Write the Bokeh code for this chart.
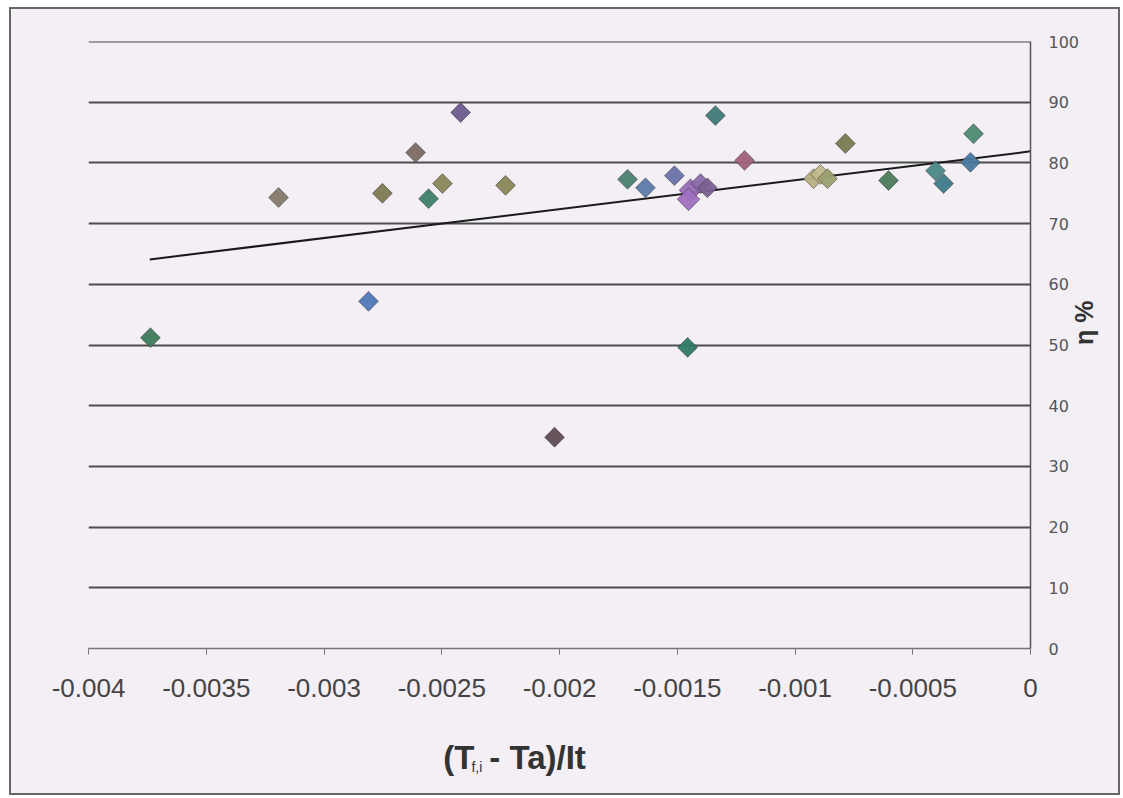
import math
from bokeh.plotting import figure
from bokeh.layouts import column
from bokeh.models import Range1d, FixedTicker, ColumnDataSource, Span
from bokeh.core.properties import value
from bokeh.embed import file_html
from bokeh.resources import INLINE

# ---- data ----
x_vals = [-0.003737, -0.003193, -0.002811, -0.002752, -0.002611, -0.002556, -0.002497,
          -0.002420, -0.002229, -0.002021, -0.001711, -0.001635, -0.001512, -0.001444,
          -0.001452, -0.001401, -0.001372, -0.001338, -0.001456, -0.001214, -0.000921,
          -0.000892, -0.000862, -0.000786, -0.000603, -0.000403, -0.000369, -0.000255,
          -0.000242]
eta_vals = [51.2, 74.3, 57.2, 75.0, 81.7, 74.1, 76.6,
            88.3, 76.3, 34.8, 77.3, 75.9, 77.9, 75.5,
            74.0, 76.6, 75.9, 87.8, 49.6, 80.4, 77.4,
            78.1, 77.4, 83.2, 77.1, 78.7, 76.6, 80.1,
            84.8]
point_colors = ["#3e7a5a", "#85786a", "#4f78b8", "#7d7950", "#7a6a62", "#3f7f6a", "#8a8458",
                "#6e5a8e", "#8a8456", "#5e4a52", "#4a8070", "#5a7aaa", "#6a70a8", "#9a6ab8",
                "#a070c0", "#8a68a8", "#7a6090", "#3e7a78", "#2e7a66", "#a0607a", "#b8b080",
                "#c0b888", "#9aa070", "#7a7a50", "#4a7a58", "#4a8888", "#3e7a88", "#4a78a0",
                "#4a8a70"]
trend_x = [-0.00374, 0.0]
trend_y = [64.1, 81.9]

x_ticks = [-0.004, -0.0035, -0.003, -0.0025, -0.002, -0.0015, -0.001, -0.0005, 0.0]
x_tick_labels = ["-0.004", "-0.0035", "-0.003", "-0.0025", "-0.002", "-0.0015", "-0.001", "-0.0005", "0"]
y_ticks = [0, 10, 20, 30, 40, 50, 60, 70, 80, 90, 100]
x_title_parts = ["(T", "f,i", "- Ta)/It"]
y_title = "η %"

BG = "#f3eff5"
W = 1107
H_MAIN = 714
H_TITLE = 70

p = figure(width=W, height=H_MAIN, output_backend="svg", toolbar_location=None,
           x_range=Range1d(-0.004, 0.0), y_range=Range1d(0, 100),
           y_axis_location="right",
           min_border_left=77, min_border_right=88, min_border_top=32, min_border_bottom=75,
           background_fill_color=BG, border_fill_color=BG)
p.outline_line_color = None

# grid
p.xgrid.visible = False
p.ygrid.ticker = FixedTicker(ticks=y_ticks)
p.ygrid.grid_line_color = "#4d4d4d"
p.ygrid.grid_line_width = 2
p.add_layout(Span(location=y_ticks[-1], dimension="width", line_color="#4d4d4d", line_width=2))

# x axis
xa = p.xaxis[0]
xa.ticker = FixedTicker(ticks=x_ticks)
xa.major_label_overrides = dict(zip(x_ticks, x_tick_labels))
xa.axis_line_color = "#777777"
xa.axis_line_width = 1.5
xa.major_tick_line_color = "#777777"
xa.major_tick_out = 6
xa.major_tick_in = 0
xa.minor_tick_line_color = None
xa.major_label_text_font = "Liberation Sans"
xa.major_label_text_font_size = "26px"
xa.major_label_text_color = "#444444"
xa.major_label_standoff = 24

# y axis (right)
ya = p.yaxis[0]
ya.ticker = FixedTicker(ticks=y_ticks)
ya.axis_line_color = "#555555"
ya.axis_line_width = 1.5
ya.major_tick_out = 0
ya.major_tick_in = 0
ya.minor_tick_line_color = None
ya.major_label_text_font = "DejaVu Sans"
ya.major_label_text_font_size = "16px"
ya.major_label_text_color = "#555555"
ya.major_label_standoff = 18
ya.axis_label = y_title
ya.axis_label_orientation = math.pi / 2
ya.axis_label_text_font = "Liberation Sans"
ya.axis_label_text_font_size = "25px"
ya.axis_label_text_font_style = "bold"
ya.axis_label_text_color = "#333333"
ya.axis_label_standoff = 2

# trendline
p.line(trend_x, trend_y, line_color="#1a1a1a", line_width=2)

# points
sizes = [14] * len(x_vals)
for i in (13, 14):
    sizes[i] = 16
src = ColumnDataSource(dict(x=x_vals, y=eta_vals, c=point_colors, s=sizes))
p.scatter("x", "y", source=src, marker="square", angle=math.pi / 4, size="s",
          fill_color="c", line_color="#333333", line_alpha=0.5, line_width=1, fill_alpha=0.95)

# ---- x-axis title strip (pixel coordinate space) ----
t = figure(width=W, height=H_TITLE, output_backend="svg", toolbar_location=None,
           x_range=Range1d(0, W), y_range=Range1d(0, H_TITLE),
           x_axis_type=None, y_axis_type=None,
           min_border=0, background_fill_color=BG, border_fill_color=BG)
t.grid.visible = False
t.outline_line_color = None
t.text(x=[417, 471], y=[36, 36], text=[x_title_parts[0], x_title_parts[2]],
       text_font=value("Liberation Sans"), text_font_size="33px", text_font_style="bold",
       text_color="#333333", text_baseline="middle", text_align="left")
t.text(x=[450], y=[27], text=[x_title_parts[1]],
       text_font=value("Liberation Sans"), text_font_size="14px",
       text_color="#333333", text_baseline="middle", text_align="left")

layout = column(p, t, spacing=0)
layout.styles = {"border": "2px solid #666", "margin-left": "9px", "margin-top": "7px",
                 "background-color": BG}

open("out.html", "w").write(file_html(layout, INLINE))
